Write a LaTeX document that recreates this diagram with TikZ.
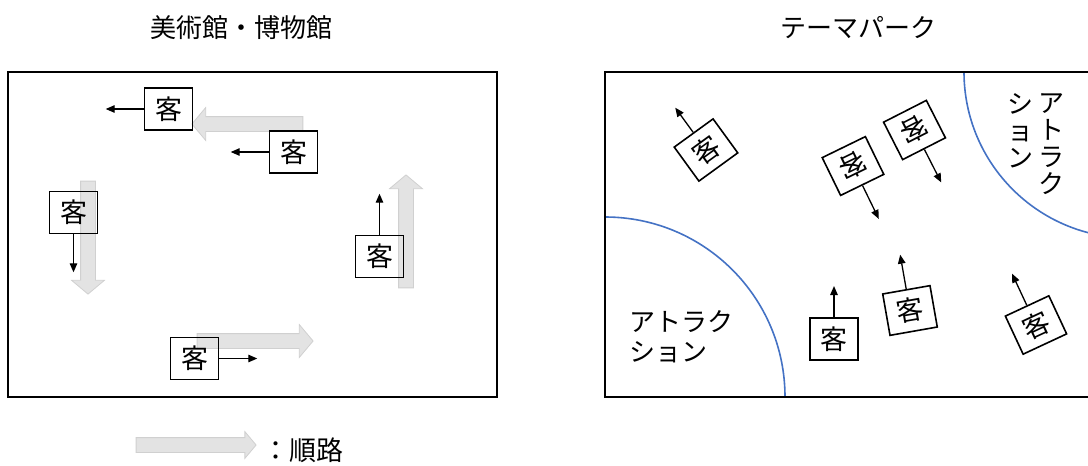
\documentclass[tikz,border=0pt]{standalone}
\usepackage{fontspec}
\setmainfont{Noto Sans CJK JP}
\usetikzlibrary{shapes.arrows,arrows.meta,calc}
\definecolor{arcblue}{HTML}{4472C4}
\definecolor{routegray}{HTML}{E3E3E3}
\definecolor{routeedge}{HTML}{D0D0D0}
\begin{document}
\begin{tikzpicture}[x=1pt,y=-1pt,
  guest/.style={draw=black, line width=1.6pt, minimum width=48pt, minimum height=42pt, inner sep=0pt, font=\fontsize{27}{27}\selectfont},
  route/.style={single arrow, fill=routegray, draw=routeedge, line width=0.8pt, inner sep=7pt, single arrow head extend=9pt, single arrow tip angle=100},
  walk/.style={line width=1.3pt, -{Triangle[length=9pt,width=7.5pt]}},
  frame/.style={line width=2pt},
  zone/.style={draw=arcblue, line width=1.6pt},
  label/.style={font=\fontsize{26}{30}\selectfont, inner sep=0pt},
]
\useasboundingbox (0,0) rectangle (1088,466);
\clip (0,0) rectangle (1088,466);

% titles
\node[label] (t1) at (241,28) {美術館・博物館};
\node[label] (t2) at (858,28) {テーマパーク};

% ---------- museum ----------
\node[route, minimum height=111pt, rotate=180] (r1) at (250.5,124) {};
\node[route, minimum height=113pt, rotate=-90] (r2) at (88,234.5) {};
\node[route, minimum height=113pt, rotate=90] (r3) at (406,234.5) {};
\node[route, minimum height=116pt] (r4) at (252,341) {};
\draw[frame] (8,72) rectangle (497,397);

\node[guest] (g1) at (168.5,109) {客};
\node[guest] (g2) at (293.5,152) {客};
\node[guest] (g3) at (73.5,212.5) {客};
\node[guest] (g4) at (379.5,256.5) {客};
\node[guest] (g5) at (194.5,358.5) {客};
\coordinate (e1) at ($(g1.west)+(-38,0)$);
\coordinate (e2) at ($(g2.west)+(-38,0)$);
\coordinate (e3) at ($(g3.south)+(0,38)$);
\coordinate (e4) at ($(g4.north)+(0,-41)$);
\coordinate (e5) at ($(g5.east)+(38,0)$);
\draw[walk] (g1.west) -- (e1);
\draw[walk] (g2.west) -- (e2);
\draw[walk] (g3.south) -- (e3);
\draw[walk] (g4.north) -- (e4);
\draw[walk] (g5.east) -- (e5);

% ---------- theme park ----------
\begin{scope}
  \clip (605,72) rectangle (1140,397);
  \draw[zone] (605,397) circle[radius=180pt];
  \draw[zone] (1130,72) circle[radius=166pt];
\end{scope}
\draw[frame] (605,72) rectangle (1140,397);

\node[label, align=left, anchor=west] (at1) at (629,337) {アトラク\\ション};
\node[label, align=center, font=\fontsize{26}{27}\selectfont] (at2) at (1051,144) {ア\\ト\\ラ\\ク};
\node[label, align=center, font=\fontsize{26}{27}\selectfont] (at3) at (1020,131) {シ\\ョ\\ン};

\node[guest, rotate=36] (pa) at (706,150) {客};
\node[guest, rotate=206] (pb) at (853,166) {客};
\node[guest, rotate=207] (pc) at (914.5,130) {客};
\node[guest] (pd) at (834,339) {客};
\node[guest, rotate=10] (pe) at (910,310.5) {客};
\node[guest, rotate=25] (pf) at (1036,325) {客};
\coordinate (qa) at ($(pa.center)!2.4!(pa.north)$);
\coordinate (qb) at ($(pb.center)!2.7!(pb.north)$);
\coordinate (qc) at ($(pc.center)!2.7!(pc.north)$);
\coordinate (qd) at ($(pd.center)!2.43!(pd.north)$);
\coordinate (qe) at ($(pe.center)!2.6!(pe.north)$);
\coordinate (qf) at ($(pf.center)!2.6!(pf.north)$);
\draw[walk] (pa.north) -- (qa);
\draw[walk] (pb.north) -- (qb);
\draw[walk] (pc.north) -- (qc);
\draw[walk] (pd.north) -- (qd);
\draw[walk] (pe.north) -- (qe);
\draw[walk] (pf.north) -- (qf);

% ---------- legend ----------
\node[route, minimum height=120pt, single arrow head extend=6pt] (lg) at (193,445) {};
\node[anchor=west, inner sep=0pt, font=\fontsize{27}{27}\selectfont] (lgt) at (262,450) {：順路};
\end{tikzpicture}
\end{document}
